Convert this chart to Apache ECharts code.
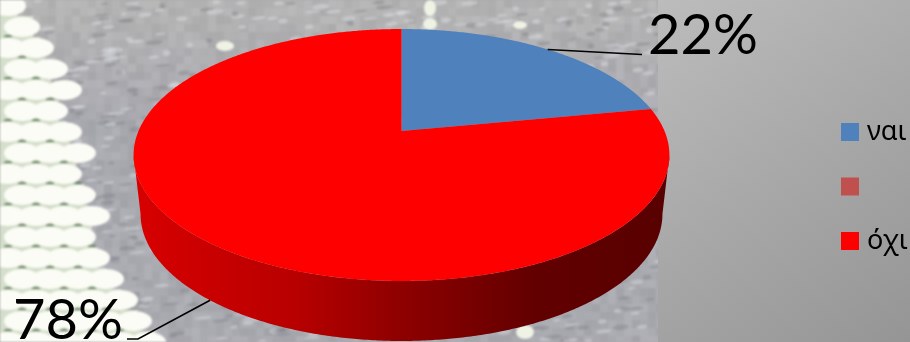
<!DOCTYPE html>
<html>
<head>
<meta charset="utf-8">
<style>
html,body{margin:0;padding:0;width:910px;height:342px;overflow:hidden;background:#aaa}
#bg,#chart{position:absolute;left:0;top:0;width:910px;height:342px}
</style>
<script src="https://cdn.jsdelivr.net/npm/echarts@6/dist/echarts.min.js"></script>
</head>
<body>
<canvas id="bg" width="910" height="342"></canvas>
<div id="chart"></div>
<script>
const categories = ['ναι', ' ', 'όχι'];
const shares = [22, 0, 78];

/* ---------- decorative photo backdrop (not data) ---------- */
(function paintBackdrop() {
  const out = document.getElementById('bg').getContext('2d');
  const c = document.createElement('canvas'); c.width = 910; c.height = 342;
  const g = c.getContext('2d');
  let s = 12345;
  const rnd = () => (s = (s * 1103515245 + 12345) & 0x7fffffff) / 0x7fffffff;
  g.fillStyle = '#a9a9b0'; g.fillRect(0, 0, 660, 342);
  const bs = 8;
  for (let y = 0; y < 342; y += bs) for (let x = 0; x < 660; x += bs) {
    const top = Math.max(0, 1 - y / 120);
    const v = 162 + rnd() * 14 + top * 10;
    g.fillStyle = `rgb(${v},${v},${v + 7 - top * 7})`;
    g.fillRect(x, y, bs, bs);
  }
  for (let i = 0; i < 900; i++) {
    const x = rnd() * 660, y = rnd() * 342, r = rnd();
    g.fillStyle = r < .5 ? 'rgba(120,120,130,.35)' : 'rgba(222,225,228,.45)';
    g.beginPath(); g.ellipse(x, y, 3 + rnd() * 6, 1 + rnd() * 1.8, -.1, 0, 7); g.fill();
  }
  const edge = [[0,25],[20,45],[50,55],[70,60],[100,68],[130,80],[160,85],[200,100],[250,108],[280,120],[310,142],[342,170]];
  const xMax = y => { for (let i = 1; i < edge.length; i++) if (y <= edge[i][0]) {
    const a = edge[i-1], b = edge[i]; return a[1] + (b[1]-a[1]) * (y-a[0]) / (b[0]-a[0]); } return 170; };
  let row = 0;
  for (let y = 6; y < 350; y += 21, row++) {
    const m = xMax(y);
    g.fillStyle = 'rgba(215,226,205,.95)'; g.fillRect(0, y - 11, Math.max(0, m - 14), 21);
    for (let x = (row % 2) * 14 - 6; x < m - 14; x += 28) {
      g.fillStyle = '#fbfcf5';
      g.beginPath(); g.ellipse(x + 14, y, 18, 10, 0, 0, 7); g.fill();
    }
    g.fillStyle = 'rgba(85,105,70,.75)'; g.fillRect(0, y + 10, m - 14, 1.2);
    for (let x = (row % 2) * 14 - 6; x < m - 12; x += 28) {
      g.fillStyle = 'rgba(70,100,65,.8)';
      g.beginPath(); g.ellipse(x, y + 10.5, 4.5, 2.6, 0, 0, 7); g.fill();
    }
  }
  [[430,8,6,8],[430,24,7,6],[525,332,9,7],[225,46,9,5],[520,25,7,4]].forEach(b => {
    g.fillStyle = '#eef3e4'; g.beginPath(); g.ellipse(b[0], b[1], b[2], b[3], 0, 0, 7); g.fill();
  });
  out.filter = 'blur(1px)'; out.drawImage(c, 0, 0); out.filter = 'none';
  const grad = out.createLinearGradient(658, 0, 910, 342);
  grad.addColorStop(0, '#bcbcbc'); grad.addColorStop(.5, '#a8a8a8'); grad.addColorStop(1, '#959595');
  out.fillStyle = grad; out.fillRect(658, 0, 252, 342);
})();

/* ---------- perspective disc projection ---------- */
const vertexX = 401.5, vertexY = 131, persp = 0.1905, ampX = 263, ampY = 121.4;
const topPt = deg => {
  const t = deg * Math.PI / 180, u = Math.sin(t), v = Math.cos(t), w = 1 + persp * v;
  return [vertexX + ampX * u / w, vertexY - ampY * v / w];
};
const baseCy = 214, topCy = 155;
const basePt = deg => {
  const p = topPt(deg);
  return [vertexX + (p[0] - vertexX) * 0.974, baseCy + (p[1] - topCy) * 1.008];
};
const range = (a, b) => {
  const r = [], n = Math.max(2, Math.ceil((b - a) / 0.5));
  for (let i = 0; i <= n; i++) r.push(a + (b - a) * i / n);
  return r;
};

const total = shares.reduce((a, b) => a + b, 0);
const startDeg = shares.map((_, i) => shares.slice(0, i).reduce((a, b) => a + b, 0) / total * 360);
const limbL = Math.acos(-persp) * 180 / Math.PI, limbR = 360 - limbL;

const sliceColors = ['#4f81bd', '#c0504d', '#ff0000'];
const labelStyle = [
  { x: 648, y: 64, tip: [642, 54.5], useBase: false },
  null,
  { x: 13, y: 349, tip: [127, 339], knee: [138, 339], useBase: true }
];
const wallFill = new echarts.graphic.LinearGradient(134, 0, 669, 0, [
  { offset: 0, color: '#d80000' }, { offset: .3, color: '#b80000' },
  { offset: .5, color: '#8e0000' }, { offset: .75, color: '#620000' },
  { offset: 1, color: '#580000' }
], true);

const renderSlice = idx => (params, api) => {
  const val = api.value(0);
  if (!val) return { type: 'group', children: [] };
  const a = startDeg[idx], b = a + val / total * 360;
  const children = [];
  const wa = Math.max(a, limbL), wb = Math.min(b, limbR);
  if (wb > wa) {
    const pts = range(wa, wb).map(topPt).concat(range(wa, wb).reverse().map(basePt));
    children.push({ type: 'polygon', shape: { points: pts }, style: { fill: wallFill } });
  }
  children.push({
    type: 'polygon',
    shape: { points: [[vertexX, vertexY]].concat(range(a, b).map(topPt)) },
    style: { fill: sliceColors[idx] }
  });
  const lab = labelStyle[idx];
  if (lab) {
    const mid = (a + b) / 2, from = lab.useBase ? basePt(mid) : topPt(mid);
    const line = lab.knee ? [from, lab.knee, lab.tip] : [from, lab.tip];
    children.push({ type: 'polyline', shape: { points: line }, style: { stroke: '#000', lineWidth: 1.6, fill: 'none' }, z2: 5 });
    children.push({ type: 'text', x: lab.x, y: lab.y, z2: 6, style: {
      text: val + '%', fill: '#000', font: '56px Lato, "Noto Sans", sans-serif',
      textAlign: 'left', textVerticalAlign: 'bottom' } });
  }
  return { type: 'group', children };
};

const chart = echarts.init(document.getElementById('chart'), null, { renderer: 'canvas' });
chart.setOption({
  animation: false,
  backgroundColor: 'transparent',
  legend: {
    orient: 'vertical', left: 841, top: 118.5, padding: 0,
    itemWidth: 18, itemHeight: 18, itemGap: 27.5, selectedMode: false,
    icon: 'rect', data: categories,
    textStyle: { fontSize: 27, color: '#000', fontFamily: '"Noto Sans", sans-serif', padding: [0, 0, 0, 3] }
  },
  series: categories.map((name, i) => ({
    type: 'custom', name, coordinateSystem: 'none', clip: false,
    itemStyle: { color: sliceColors[i] },
    renderItem: renderSlice(i),
    data: [[shares[i]]],
    encode: { value: 0 }
  }))
});
</script>
</body>
</html>
